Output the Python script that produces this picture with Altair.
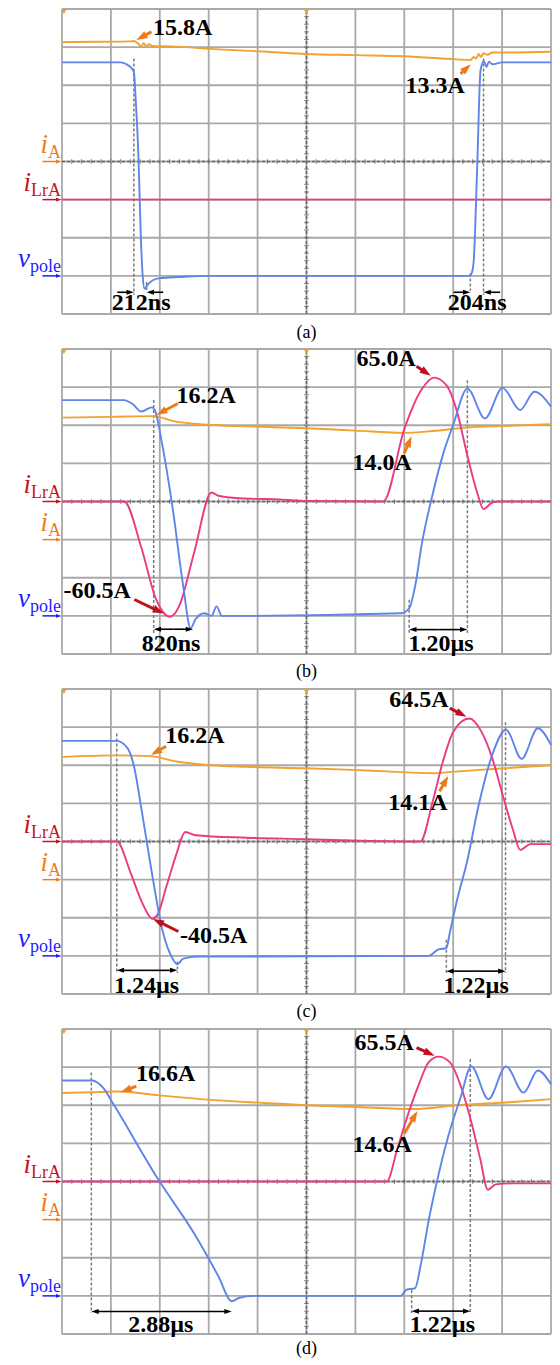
import math
import altair as alt
import pandas as pd

# ---------------------------------------------------------------------------
# Data.
# time t in µs (1 µs/div); i_A in A (5 A/div); i_LrA in A (20 A/div);
# v_pole in V (100 V/div).  Vertical position is in screen divisions (0..8).
# ---------------------------------------------------------------------------
# ---- panel (a)
a_iA_t = [0, 0.7, 1.4, 1.47, 1.55, 1.62, 1.67, 1.72, 1.78, 1.84, 2.2, 3.2, 4.2, 5.0, 6.0, 7.0,
          8.05, 8.35, 8.42, 8.47, 8.52, 8.57, 8.62, 8.7, 8.8, 9.2, 10]
a_iA = [15.65, 15.7, 15.75, 15.8, 15.5, 15.1, 15.5, 15.1, 15.4, 15.15, 15.1, 14.7, 14.4, 14.1, 13.95,
        13.8, 13.4, 13.3, 13.7, 13.5, 14.1, 13.7, 14.2, 14.0, 14.3, 14.3, 14.4]
a_iL_t = [0, 2.5, 5, 7.5, 10]
a_iL = [0, 0, 0, 0, 0]
a_v_t = [0, 1.2, 1.32, 1.42, 1.47, 1.51, 1.56, 1.61, 1.65, 1.69, 1.74, 1.85, 2.0, 2.4, 3.0, 8.33,
         8.38, 8.42, 8.49, 8.56, 8.63, 8.68, 8.73, 8.8, 9.0, 10]
a_v = [560, 560, 555, 545, 535, 455, 325, 110, 0, -34, -25, -12, -6, -3, 0, 0,
       8, 40, 283, 540, 563, 548, 562, 555, 560, 560]

# ---- panel (b)
b_iA_t = [0, 1.0, 1.875, 2.3, 2.7, 3.2, 3.8, 5.0, 6.0, 7.0, 7.5, 8.3, 9.0, 10]
b_iA = [16.0, 16.1, 16.2, 15.5, 15.2, 15.0, 14.85, 14.6, 14.3, 14.0, 14.2, 14.7, 14.9, 15.15]
b_iL_t = [0, 1.27, 1.62, 1.92, 2.1, 2.2, 2.3, 2.41, 2.7, 3.06, 3.2, 3.63, 4.5, 5.0, 6.57, 7.0,
          7.36, 7.61, 7.86, 8.08, 8.29, 8.5, 8.62, 8.8, 8.95, 10]
b_iL = [0, 0, -24, -51, -59, -60.5, -59, -54, -27, 4.7, 3, 1.7, 1, 0.3, 0, 38,
        59, 65, 61, 47, 24, 3.8, -4, -0.5, 0, 0]
b_v_t = [0, 1.27, 1.45, 1.62, 1.84, 1.91, 2.05, 2.27, 2.48, 2.63, 2.73, 2.91, 3.06, 3.16, 3.27,
         3.6, 6.93, 7.1, 7.22, 7.36, 7.58, 7.79, 8.0, 8.29, 8.65, 9.01, 9.37, 9.66, 10]
b_v = [566, 566, 555, 536, 547, 536, 449, 276, 77, -32, -9, 7, 0, 25, 0,
       0, 7, 20, 77, 190, 319, 423, 501, 596, 518, 598, 540, 588, 549]

# ---- panel (c)
c_iA_t = [0, 1.12, 1.8, 2.34, 3.06, 3.77, 5.0, 5.93, 6.64, 7.6, 7.9, 8.8, 10]
c_iA = [16.1, 16.3, 16.2, 15.5, 15.0, 14.8, 14.6, 14.4, 14.2, 13.95, 14.1, 14.5, 15.0]
c_iL_t = [0, 1.12, 1.41, 1.62, 1.77, 1.84, 1.95, 2.13, 2.34, 2.52, 2.73, 3.77, 5.0, 5.9, 7.33,
          7.58, 7.79, 8.0, 8.33, 8.58, 8.8, 9.01, 9.23, 9.37, 9.58, 10]
c_iL = [0, 0, -17, -31, -38.6, -40.5, -38.6, -24, -6.6, 5, 3.3, 2, 1.2, 0.5, 0,
        21, 42, 57.5, 64.5, 57.5, 43.6, 24.6, 5.5, -4.4, -1.4, -1.4]
c_v_t = [0, 1.12, 1.34, 1.48, 1.62, 1.84, 2.05, 2.27, 2.36, 2.48, 2.77, 7.5, 7.7, 7.86, 7.93,
         8.08, 8.29, 8.51, 8.8, 9.08, 9.4, 9.73, 10]
c_v = [564, 564, 545, 493, 389, 216, 69, -9, -22, -7, -2, 0, 17, 20, 60,
       147, 251, 389, 528, 593, 517, 597, 553]

# ---- panel (d)
d_iA_t = [0, 0.62, 1.16, 1.98, 3.06, 4.13, 5.0, 5.93, 7.18, 8.08, 9.15, 10]
d_iA = [16.6, 16.7, 16.8, 16.3, 15.7, 15.3, 15.0, 14.8, 14.5, 15.0, 15.4, 15.8]
d_iL_t = [0, 6.64, 6.86, 7.07, 7.29, 7.5, 7.7, 7.93, 8.15, 8.37, 8.55, 8.71, 8.87, 9.2, 10]
d_iL = [0, 0, 17.4, 34.7, 50.4, 62.6, 65.5, 62.6, 50.4, 31.2, 12.2, -4.3, -1.5, -1, -1]
d_v_t = [0, 0.62, 0.84, 1.05, 1.98, 2.7, 3.2, 3.47, 3.63, 3.9, 6.93, 7.04, 7.22, 7.33, 7.5,
         7.72, 7.93, 8.15, 8.37, 8.72, 9.08, 9.44, 9.73, 10]
d_v = [565, 565, 546, 503, 303, 164, 51, -14, -5, 0, 0, 16, 20, 77, 199,
       329, 433, 520, 602, 516, 602, 533, 591, 555]

# channel ground levels (div) and gains (unit/div)
grounds = {
    "a": {"iA": 4, "iLrA": 3, "vpole": 1},
    "b": {"iA": 3, "iLrA": 4, "vpole": 1},
    "c": {"iA": 3, "iLrA": 4, "vpole": 1},
    "d": {"iA": 3, "iLrA": 4, "vpole": 1},
}
gains = {"iA": 5, "iLrA": 20, "vpole": 100}

# annotations: text, time, level(div)
a_note_text = ["15.8A", "13.3A", "212ns", "204ns"]
a_note_t = [2.47, 7.63, 1.62, 8.49]
a_note_y = [7.51, 5.99, 0.29, 0.29]
b_note_text = ["16.2A", "65.0A", "14.0A", "-60.5A", "820ns", "1.20µs"]
b_note_t = [2.95, 6.63, 6.55, 0.72, 2.23, 7.75]
b_note_y = [6.78, 7.74, 5.01, 1.64, 0.26, 0.26]
c_note_text = ["16.2A", "64.5A", "14.1A", "-40.5A", "1.24µs", "1.22µs"]
c_note_t = [2.72, 7.3, 7.28, 3.1, 1.73, 8.47]
c_note_y = [6.78, 7.71, 5.01, 1.53, 0.21, 0.21]
d_note_text = ["16.6A", "65.5A", "14.6A", "2.88µs", "1.22µs"]
d_note_t = [2.12, 6.59, 6.55, 2.02, 7.78]
d_note_y = [6.82, 7.64, 4.96, 0.24, 0.24]

# pointer arrows (from -> to), colour key
a_ptr = dict(t0=[1.83, 8.15], y0=[7.40, 6.30], t1=[1.52, 8.36], y1=[7.19, 6.55], c=["o", "o"])
b_ptr = dict(t0=[2.37, 7.25, 7.0, 1.48], y0=[6.57, 7.55, 5.27, 1.43],
             t1=[1.93, 7.54, 7.15, 2.08], y1=[6.27, 7.30, 5.71, 1.06], c=["o", "r", "o", "r"])
c_ptr = dict(t0=[2.13, 7.93, 7.72, 2.38], y0=[6.5, 7.5, 5.32, 1.64],
             t1=[1.82, 8.27, 7.9, 1.86], y1=[6.27, 7.27, 5.72, 1.97], c=["o", "r", "o", "r"])
d_ptr = dict(t0=[1.52, 7.25, 7.0], y0=[6.5, 7.51, 5.26],
             t1=[1.2, 7.62, 7.27], y1=[6.34, 7.3, 5.85], c=["o", "r", "o"])

# time-interval markers: start, end, level, style
a_span = dict(t0=[1.47, 8.35], t1=[1.73, 8.62], y=[0.57, 0.57], s="out")
b_span = dict(t0=[1.875, 7.1], t1=[2.68, 8.29], y=[0.65, 0.64], s="in")
c_span = dict(t0=[1.12, 7.86], t1=[2.36, 9.07], y=[0.62, 0.60], s="in")
d_span = dict(t0=[0.6, 7.15], t1=[3.47, 8.35], y=[0.59, 0.60], s="in")

# dashed cursor lines: time, top, bottom (div)
a_dash = dict(t=[1.47, 1.73, 8.35, 8.62], y0=[6.7, 0.84, 1.06, 6.7], y1=[0.5, 0.6, 0.6, 0.5])
b_dash = dict(t=[1.875, 7.1, 8.29], y0=[6.66, 1.42, 7.18], y1=[0.55, 0.55, 0.55])
c_dash = dict(t=[1.12, 2.36, 7.86, 9.07], y0=[6.83, 0.85, 1.42, 7.13], y1=[0.55, 0.55, 0.55, 0.55])
d_dash = dict(t=[0.6, 7.15, 8.35], y0=[6.86, 1.15, 7.21], y1=[0.55, 0.55, 0.55])

captions = {"a": "(a)", "b": "(b)", "c": "(c)", "d": "(d)"}
caption_y = {"a": -0.49, "b": -0.47, "c": -0.47, "d": -0.40}

# screen graticule: 10 x 8 divisions
grid_t = list(range(11))
grid_y = list(range(9))

# ---------------------------------------------------------------------------
# layout (pixels) - the page body is 544 px wide
W = 544                     # full panel width, label strip included
LEFT = 54                   # strip on the left for channel labels
PXT = (W - LEFT - 1) / 10.0  # px per µs division
PXY = 305 / 8.0             # px per vertical division
PANEL_H = {"a": 340, "b": 340, "c": 340, "d": 329}
T_MIN = -LEFT / PXT
T_MAX = (W - LEFT) / PXT
Y_TOP = 8 + 1.0 / PXY

SERIF = "Liberation Serif"
C_TR = {"iA": "#f2a22e", "iLrA": "#ea3a84", "vpole": "#5f84ea"}
C_LBL = {"iA": "#f07d1c", "iLrA": "#c8141e", "vpole": "#1c1cff"}
C_PTR = {"o": "#ef7a1a", "r": "#c0101c"}
GRID = "#a9a9a9"
HEAD = "M0,-1L0.6,0.75L-0.6,0.75Z"

xs = alt.Scale(domain=[T_MIN, T_MAX], nice=False, zero=False)


def arrow_layers(rows, width, size, X, Y):
    """rows: list of (t0, y0, t1, y1, colour); head at (t1, y1)."""
    half = math.sqrt(size) / 2.0
    recs = []
    for t0, y0, t1, y1, col in rows:
        dx = (t1 - t0) * PXT
        dy = (y1 - y0) * PXY
        ln = math.hypot(dx, dy) or 1.0
        ang = math.degrees(math.atan2(dx, dy)) % 360
        th = t1 - dx / ln * half / PXT
        yh = y1 - dy / ln * half / PXY
        recs.append(dict(t0=t0, y0=y0, th=th, yh=yh, ang=ang, col=col))
    df = pd.DataFrame(recs)
    line = alt.Chart(df).mark_rule(strokeWidth=width).encode(
        x=X("t0:Q"), y=Y("y0:Q"), x2="th:Q", y2="yh:Q",
        color=alt.Color("col:N", scale=None))
    head = alt.Chart(df).mark_point(shape=HEAD, filled=True, opacity=1, strokeWidth=0, size=size).encode(
        x=X("th:Q"), y=Y("yh:Q"), angle=alt.Angle("ang:Q", scale=None),
        color=alt.Color("col:N", scale=None))
    return [line, head]


def build_panel(p, tr, note_text, note_t, note_y, ptr, span, dash):
    h = PANEL_H[p]
    ys = alt.Scale(domain=[Y_TOP - h / PXY, Y_TOP], nice=False, zero=False)

    def X(f):
        return alt.X(f, scale=xs, axis=None)

    def Y(f):
        return alt.Y(f, scale=ys, axis=None)

    g = grounds[p]
    rows = []
    for ser, (tt, vv) in tr.items():
        for i, (t, v) in enumerate(zip(tt, vv)):
            rows.append(dict(series=ser, t=t, value=v, ground=g[ser], gain=gains[ser], idx=i))
    dtr = pd.DataFrame(rows)

    layers = []
    # graticule
    layers.append(alt.Chart(pd.DataFrame({"t": grid_t})).transform_calculate(y0="0", y1="8").mark_rule(
        color=GRID, strokeWidth=1.8).encode(x=X("t:Q"), y=Y("y0:Q"), y2="y1:Q"))
    layers.append(alt.Chart(pd.DataFrame({"y": grid_y})).transform_calculate(t0="0", t1="10").mark_rule(
        color=GRID, strokeWidth=1.8).encode(y=Y("y:Q"), x=X("t0:Q"), x2="t1:Q"))
    # centre cross (dashed) with minor ticks
    layers.append(alt.Chart(pd.DataFrame({"t": [5], "y0": [0], "y1": [8]})).mark_rule(
        color="#666666", strokeWidth=1.5, strokeDash=[3, 2]).encode(x=X("t:Q"), y=Y("y0:Q"), y2="y1:Q"))
    layers.append(alt.Chart(pd.DataFrame({"y": [4], "t0": [0], "t1": [10]})).mark_rule(
        color="#666666", strokeWidth=1.5, strokeDash=[3, 2]).encode(y=Y("y:Q"), x=X("t0:Q"), x2="t1:Q"))
    layers.append(alt.Chart(alt.sequence(0.2, 9.9, 0.2, as_="t")).transform_calculate(y="4").mark_tick(
        orient="vertical", size=5, thickness=1, color="#666666").encode(x=X("t:Q"), y=Y("y:Q")))
    layers.append(alt.Chart(alt.sequence(0.2, 7.9, 0.2, as_="y")).transform_calculate(t="5").mark_tick(
        orient="horizontal", size=5, thickness=1, color="#666666").encode(x=X("t:Q"), y=Y("y:Q")))
    # trigger markers at the top
    layers.append(alt.Chart(pd.DataFrame({"t": [5, 0.04], "y": [7.93, 7.93]})).mark_point(
        shape="triangle-down", filled=True, size=30, color="#f0a030", opacity=1).encode(
        x=X("t:Q"), y=Y("y:Q")))
    # dashed cursor lines
    layers.append(alt.Chart(pd.DataFrame(dash)).mark_rule(
        color="#7a7a7a", strokeWidth=1.5, strokeDash=[3, 2]).encode(x=X("t:Q"), y=Y("y0:Q"), y2="y1:Q"))
    # traces
    for ser in ["iA", "iLrA", "vpole"]:
        layers.append(alt.Chart(dtr).transform_filter(alt.datum.series == ser).transform_calculate(
            yd="datum.ground + datum.value / datum.gain").mark_line(
            clip=True, interpolate="monotone", strokeWidth=1.9, color=C_TR[ser]).encode(
            x=X("t:Q"), y=Y("yd:Q"), order="idx:Q"))
    # pointer arrows
    prow = [(a, b, c, d, C_PTR[k]) for a, b, c, d, k in
            zip(ptr["t0"], ptr["y0"], ptr["t1"], ptr["y1"], ptr["c"])]
    layers += arrow_layers(prow, 3, 160, X, Y)
    # interval arrows
    srow = []
    for t0, t1, y in zip(span["t0"], span["t1"], span["y"]):
        if span["s"] == "out":
            srow.append((t0 - 0.34, y, t0, y, "#000000"))
            srow.append((t1 + 0.34, y, t1, y, "#000000"))
        else:
            m = (t0 + t1) / 2.0
            srow.append((m, y, t0, y, "#000000"))
            srow.append((m, y, t1, y, "#000000"))
    layers += arrow_layers(srow, 1.6, 70, X, Y)
    # annotation text
    layers.append(alt.Chart(pd.DataFrame({"txt": note_text, "t": note_t, "y": note_y})).mark_text(
        font=SERIF, fontSize=24, fontWeight="bold", color="black", baseline="middle", align="center").encode(
        x=X("t:Q"), y=Y("y:Q"), text="txt:N"))
    # channel labels on the left
    subw = {"A": 13, "LrA": 30, "pole": 31}
    lab = pd.DataFrame({
        "main": ["i", "i", "v"],
        "sub": ["A", "LrA", "pole"],
        "ser": ["iA", "iLrA", "vpole"],
    })
    lab["y"] = [g[s] for s in lab["ser"]]
    lab["col"] = [C_LBL[s] for s in lab["ser"]]
    lab["tm"] = [-(subw[s] + 1) / PXT for s in lab["sub"]]
    lab["ts"] = 0.0
    layers.append(alt.Chart(lab).mark_text(
        font=SERIF, fontSize=27, fontStyle="italic", align="right", baseline="alphabetic", dy=-9).encode(
        x=X("tm:Q"), y=Y("y:Q"), text="main:N", color=alt.Color("col:N", scale=None)))
    layers.append(alt.Chart(lab).mark_text(
        font=SERIF, fontSize=18, align="right", baseline="alphabetic", dy=-4, dx=-1).encode(
        x=X("ts:Q"), y=Y("y:Q"), text="sub:N", color=alt.Color("col:N", scale=None)))
    lrow = [(-0.40, y, -0.01, y, c) for y, c in zip(lab["y"], lab["col"])]
    layers += arrow_layers(lrow, 1.5, 40, X, Y)
    # caption
    layers.append(alt.Chart(pd.DataFrame({"txt": [captions[p]], "t": [5], "y": [caption_y[p]]})).mark_text(
        font=SERIF, fontSize=18, color="black", baseline="middle", align="center").encode(
        x=X("t:Q"), y=Y("y:Q"), text="txt:N"))
    return alt.layer(*layers).properties(width=W, height=h)


pa = build_panel("a", {"iA": (a_iA_t, a_iA), "iLrA": (a_iL_t, a_iL), "vpole": (a_v_t, a_v)},
                 a_note_text, a_note_t, a_note_y, a_ptr, a_span, a_dash)
pb = build_panel("b", {"iA": (b_iA_t, b_iA), "iLrA": (b_iL_t, b_iL), "vpole": (b_v_t, b_v)},
                 b_note_text, b_note_t, b_note_y, b_ptr, b_span, b_dash)
pc = build_panel("c", {"iA": (c_iA_t, c_iA), "iLrA": (c_iL_t, c_iL), "vpole": (c_v_t, c_v)},
                 c_note_text, c_note_t, c_note_y, c_ptr, c_span, c_dash)
pd_ = build_panel("d", {"iA": (d_iA_t, d_iA), "iLrA": (d_iL_t, d_iL), "vpole": (d_v_t, d_v)},
                  d_note_text, d_note_t, d_note_y, d_ptr, d_span, d_dash)

chart = alt.vconcat(pa, pb, pc, pd_, spacing=0, bounds="flush").properties(
    padding={"left": 0, "top": 0, "right": 0, "bottom": 0}
).configure_view(stroke=None)

chart.save("out.html", embed_options={"renderer": "svg", "actions": False})
